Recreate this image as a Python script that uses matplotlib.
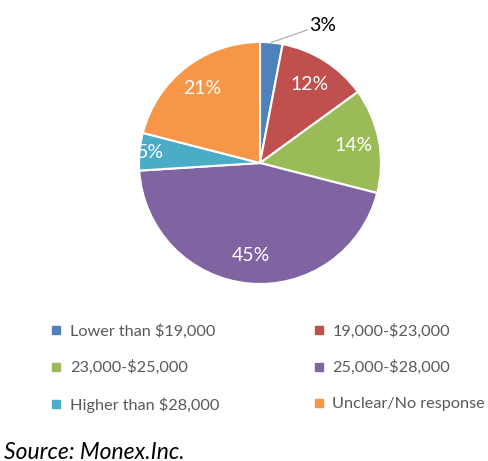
import matplotlib
matplotlib.use("Agg")
import matplotlib.pyplot as plt
from matplotlib.lines import Line2D
import numpy as np

categories = ["Lower than $19,000", "19,000-$23,000", "23,000-$25,000",
              "25,000-$28,000", "Higher than $28,000", "Unclear/No response"]
values = [3, 12, 14, 45, 5, 21]
colors = ["#4F81BD", "#C0504D", "#9BBB59", "#8064A2", "#4BACC6", "#F79646"]
label_radius = [None, 0.77, 0.79, 0.77, 0.91, 0.78]

plt.rcParams['font.family'] = ['Lato', 'DejaVu Sans']

W, H = 489, 461
fig = plt.figure(figsize=(W / 100, H / 100), dpi=100)
cx, cy, r = 260, 163, 121
ax = fig.add_axes([(cx - r) / W, (H - cy - r) / H, 2 * r / W, 2 * r / H])
wedges, _ = ax.pie(values, colors=colors, startangle=90, counterclock=False,
                   radius=1.0, wedgeprops=dict(edgecolor="white", linewidth=1.5))
ax.set_xlim(-1, 1)
ax.set_ylim(-1, 1)
ax.set_aspect("equal")
ax.axis("off")

for i, (w, v) in enumerate(zip(wedges, values)):
    ang = np.deg2rad((w.theta1 + w.theta2) / 2)
    if label_radius[i] is None:
        # outside label with leader line
        ex, ey = np.cos(ang) * 1.0, np.sin(ang) * 1.0
        tx, ty = 0.41, 1.14
        ax.plot([ex, tx - 0.02], [ey, 1.10], color="#A6A6A6",
                lw=0.8, clip_on=False)
        ax.text(tx, ty, f"{v}%", ha="left", va="center", fontsize=14,
                color="#000000", clip_on=False)
    else:
        rr = label_radius[i]
        ax.text(np.cos(ang) * rr, np.sin(ang) * rr, f"{v}%", ha="center",
                va="center", fontsize=14, color="white", clip_on=False)

order = [0, 2, 4, 1, 3, 5]
handles = [Line2D([], [], marker="s", linestyle="none", markersize=6,
                  markerfacecolor=colors[i], markeredgecolor=colors[i])
           for i in order]
labels = [categories[i] for i in order]
leg = fig.legend(handles, labels, ncol=2, loc="upper left",
                 bbox_to_anchor=(44 / W, 1 - 317 / H), frameon=False,
                 fontsize=11.7, handlelength=0.7, handletextpad=0.5,
                 columnspacing=5.75, labelspacing=1.33, borderaxespad=0)
for t in leg.get_texts():
    t.set_color("#595959")

fig.text(4 / W, 1 - 452 / H, "Source: Monex.Inc.", fontsize=16.5,
         style="italic", ha="left", va="center", color="black")

fig.savefig("out.png", dpi=100)
